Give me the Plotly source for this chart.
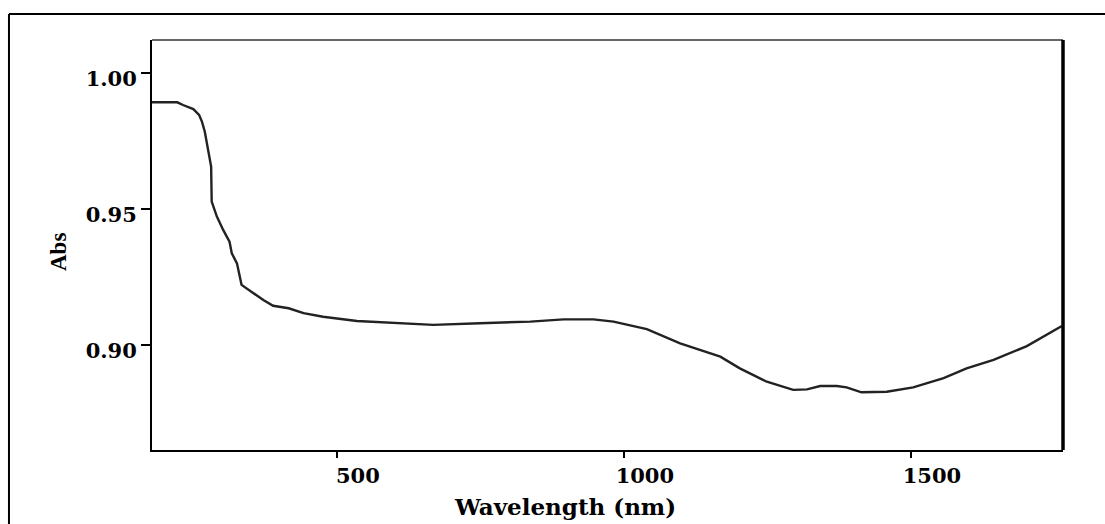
import plotly.graph_objects as go

wavelength = [178, 222, 232, 250, 260, 265, 270, 276, 281, 282, 291, 302, 313, 317, 326, 334,
              355, 372, 389, 416, 442, 476, 535, 610, 668, 749, 837, 895, 947, 982, 1040, 1098,
              1168, 1202, 1249, 1295, 1319, 1342, 1371, 1388, 1414, 1458, 1504, 1557, 1597, 1644,
              1702, 1763]
absorbance = [0.9892, 0.9892, 0.9882, 0.9867, 0.9846, 0.9821, 0.9784, 0.9717, 0.9656, 0.9527,
              0.9472, 0.9423, 0.9380, 0.9337, 0.9300, 0.9221, 0.9190, 0.9165, 0.9144, 0.9135,
              0.9117, 0.9104, 0.9088, 0.9080, 0.9074, 0.9080, 0.9086, 0.9094, 0.9094, 0.9086,
              0.9058, 0.9006, 0.8957, 0.8914, 0.8865, 0.8835, 0.8837, 0.8849, 0.8849, 0.8844,
              0.8826, 0.8828, 0.8844, 0.8878, 0.8914, 0.8945, 0.8996, 0.9070]

x_ticks = [500, 1000, 1500]
x_tick_labels = ["500", "1000", "1500"]
y_ticks = [0.90, 0.95, 1.00]
y_tick_labels = ["0.90", "0.95", "1.00"]

fig = go.Figure()
fig.add_trace(go.Scatter(x=wavelength, y=absorbance, mode="lines",
                         line=dict(color="#222222", width=2.4), hoverinfo="skip",
                         showlegend=False))

tick_font = dict(family="DejaVu Serif", size=21, color="black", weight="bold")

fig.update_layout(
    width=1105, height=524,
    margin=dict(l=152, r=42, t=40, b=74),
    paper_bgcolor="white", plot_bgcolor="white",
    xaxis=dict(range=[178, 1765], showgrid=False, zeroline=False,
               showline=True, linecolor="black", linewidth=2,
               ticks="outside", ticklen=6, tickwidth=2, tickcolor="black",
               tickvals=x_ticks, ticktext=x_tick_labels, tickfont=tick_font,
               ticklabelshift=21),
    yaxis=dict(range=[0.8614, 1.0121], showgrid=False, zeroline=False,
               showline=True, linecolor="black", linewidth=2,
               ticks="outside", ticklen=9, tickwidth=1.5, tickcolor="black",
               tickvals=y_ticks, ticktext=y_tick_labels, tickfont=tick_font,
               ticklabelshift=6),
    shapes=[
        dict(type="line", xref="paper", yref="paper", x0=0, x1=1, y0=1, y1=1,
             line=dict(color="#333333", width=1.5)),
        dict(type="line", xref="paper", yref="paper", x0=1, x1=1, y0=0, y1=1,
             line=dict(color="black", width=3.5)),
        # outer frame: left and top edges (right/bottom fall outside the picture)
        dict(type="line", xref="paper", yref="paper", x0=-0.157, x1=-0.157,
             y0=-0.4, y1=1.0634, line=dict(color="black", width=2)),
        dict(type="line", xref="paper", yref="paper", x0=-0.157, x1=1.3,
             y0=1.0634, y1=1.0634, line=dict(color="black", width=2)),
    ],
    annotations=[
        dict(text="Wavelength (nm)", xref="paper", yref="paper",
             x=(565 - 152) / 911, y=-(506 - 450) / 410, xanchor="center", yanchor="middle",
             showarrow=False, font=dict(family="DejaVu Serif", size=23, color="black",
                                        weight="bold")),
        dict(text="Abs", xref="paper", yref="paper", textangle=-90,
             x=(58 - 152) / 911, y=(450 - 252) / 410, xanchor="center", yanchor="middle",
             showarrow=False, font=dict(family="Liberation Serif", size=23, color="black",
                                        weight="bold")),
    ],
)

fig.write_html("out.html")
